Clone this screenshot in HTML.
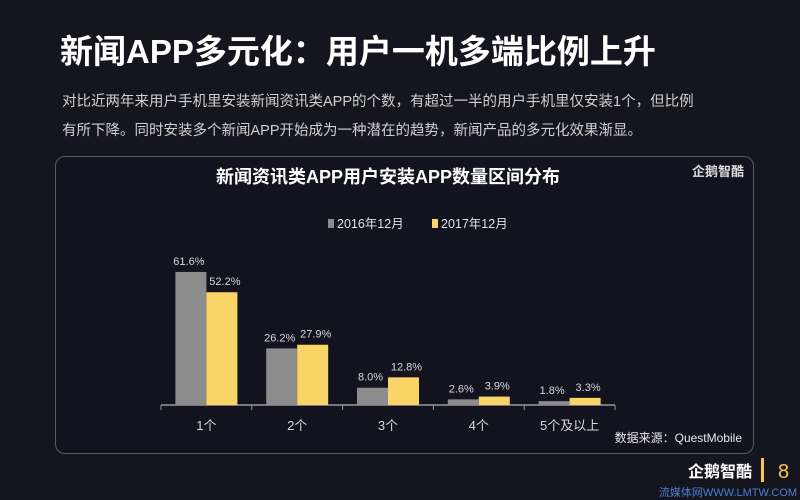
<!DOCTYPE html>
<html><head><meta charset="utf-8">
<style>
body{margin:0;background:#14141f;font-family:"Liberation Sans","Noto Sans CJK SC",sans-serif;}
#root{position:relative;width:800px;height:500px;overflow:hidden;background:#15151f;}
.t{position:absolute;white-space:nowrap;}
</style></head><body>
<div id="root">
<div class="t" style="left:60px;top:25px;font-size:33px;font-weight:bold;color:#fff;">新闻APP多元化：用户一机多端比例上升</div>
<div class="t" style="left:62px;top:88px;font-size:14.5px;line-height:29px;color:#d0d0d0;">对比近两年来用户手机里安装新闻资讯类APP的个数，有超过一半的用户手机里仅安装1个，但比例<br>有所下降。同时安装多个新闻APP开始成为一种潜在的趋势，新闻产品的多元化效果渐显。</div>
<div style="position:absolute;left:55px;top:156px;width:697px;height:296px;border:1.5px solid #5a5a62;border-radius:10px;background:#131320;"></div>
<svg id="chart" width="800" height="500" style="position:absolute;left:0;top:0">
<text x="388" y="183" text-anchor="middle" font-size="18" font-weight="bold" fill="#fff">新闻资讯类APP用户安装APP数量区间分布</text>
<g>
<rect x="328" y="219" width="6" height="9" fill="#8c8c8c"/>
<text x="337" y="228" font-size="12.5" fill="#e0e0e0">2016年12月</text>
<rect x="432" y="219" width="6" height="9" fill="#f8d566"/>
<text x="441" y="228" font-size="12.5" fill="#e0e0e0">2017年12月</text>
</g>
<g id="bars"></g>
<text x="742" y="442" text-anchor="end" font-size="12" fill="#e8e8e8">数据来源：QuestMobile</text>
<text x="744" y="176" text-anchor="end" font-size="13" font-weight="bold" fill="#ddd">企鹅智酷</text>
<text x="752" y="477" text-anchor="end" font-size="16" font-weight="bold" fill="#fff">企鹅智酷</text>
<rect x="761" y="458" width="3" height="24" fill="#f8c74a"/>
<text x="778" y="478" font-size="20" fill="#f8c74a">8</text>
<text x="797" y="496" text-anchor="end" font-size="11" fill="#4a7fd0">流媒体网WWW.LMTW.COM</text>
</svg>
</div>
<script>
const categories=["1个","2个","3个","4个","5个及以上"];
const series2016=[61.6,26.2,8.0,2.6,1.8];
const series2017=[52.2,27.9,12.8,3.9,3.3];
const NS="http://www.w3.org/2000/svg";
const g=document.getElementById("bars");
const x0=161,x1=615,baseY=405,pxPer=2.16;
const band=(x1-x0)/categories.length;
const xPos=i=>x0+band*i;
const yPos=v=>baseY-v*pxPer;
function mk(tag,attrs){const e=document.createElementNS(NS,tag);for(const k in attrs)e.setAttribute(k,attrs[k]);g.appendChild(e);return e;}
const ax=mk("line",{x1:x0,x2:x1,y1:baseY,y2:baseY,stroke:"#9a9a9a","stroke-width":1.5});


for(let i=0;i<=categories.length;i++){
  const t=mk("line",{x1:xPos(i),x2:xPos(i),y1:baseY,y2:baseY+5,stroke:"#9a9a9a"});
  
  
}
const bw=31;
categories.forEach((c,i)=>{
  const cx=xPos(i)+band/2;
  const a=series2016[i],b=series2017[i];
  const r1=mk("rect",{x:cx-bw,y:yPos(a),width:bw,height:a*pxPer,fill:"#8c8c8c"});
  
  
  const r2=mk("rect",{x:cx,y:yPos(b),width:bw,height:b*pxPer,fill:"#f8d566"});
  
  
  const l1=mk("text",{x:cx-bw/2-2,y:yPos(a)-7,"text-anchor":"middle","font-size":11,fill:"#d8d8d8"});
  l1.textContent=a.toFixed(1)+"%";
  
  
  const l2=mk("text",{x:cx+bw/2+3,y:yPos(b)-7,"text-anchor":"middle","font-size":11,fill:"#d8d8d8"});
  l2.textContent=b.toFixed(1)+"%";
  
  
  const cl=mk("text",{x:cx,y:baseY+25,"text-anchor":"middle","font-size":13,fill:"#d8d8d8"});
  cl.textContent=c;
  
  
});
</script>
</body></html>
